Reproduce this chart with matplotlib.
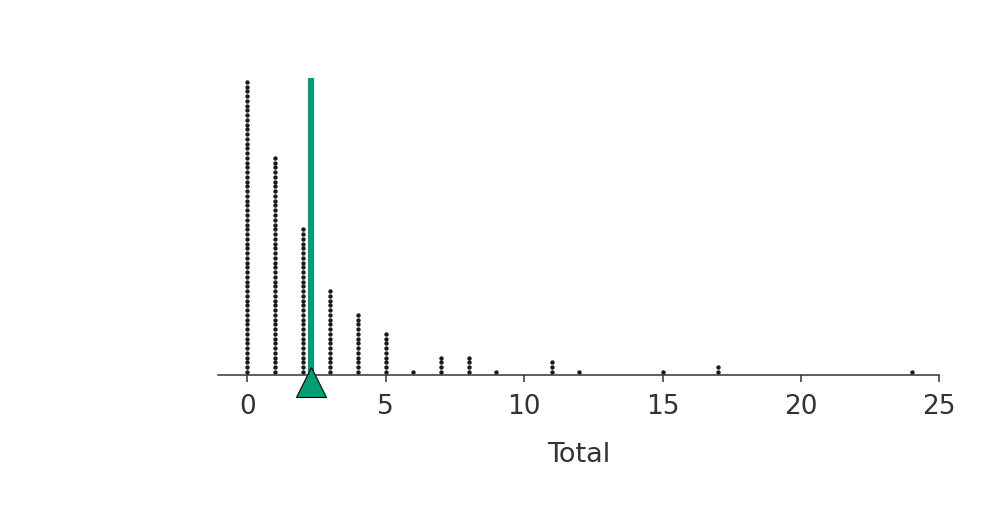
import numpy as np
import matplotlib
matplotlib.use("Agg")
import matplotlib.pyplot as plt

# data: value -> count of observations
values = [0, 1, 2, 3, 4, 5, 6, 7, 8, 9, 11, 12, 15, 17, 24]
counts = [62, 46, 31, 18, 13, 9, 1, 4, 4, 1, 3, 1, 1, 2, 1]
xticks = [0, 5, 10, 15, 20, 25]
xlabel = "Total"

xs, ys = [], []
for v, c in zip(values, counts):
    xs.extend([v] * c)
    ys.extend(range(c))
xs = np.array(xs, dtype=float)
ys = np.array(ys, dtype=float)
mean_val = xs.mean()

text_col = "#333333"
green = "#009E73"

fig = plt.figure(figsize=(10, 5.28), dpi=100)
ax = fig.add_axes([0.2177, 1 - 375.3 / 528, 0.9393 - 0.2177, (375.3 - 78) / 528])

ax.scatter(xs, ys, s=10, color="#1a1a1a", linewidths=0, zorder=2)
ax.axvline(mean_val, color=green, lw=4.4, zorder=3)
ax.plot([mean_val], [-0.021], marker="^", markersize=21, color=green,
        markeredgecolor="black", markeredgewidth=0.8,
        transform=ax.get_xaxis_transform(), clip_on=False, zorder=5)

ax.set_xlim(-1.07, 25.0)
ax.set_ylim(-0.7, 61.8)
ax.set_xticks(xticks)
ax.set_xticklabels([str(t) for t in xticks])
ax.set_yticks([])
for s in ["left", "right", "top"]:
    ax.spines[s].set_visible(False)
ax.spines["bottom"].set_color(text_col)
ax.spines["bottom"].set_linewidth(1.1)
ax.tick_params(axis="x", direction="out", length=5, width=1.1, color=text_col,
               labelsize=19, labelcolor=text_col, pad=8.5)
ax.set_xlabel(xlabel, fontsize=19.5, color=text_col, labelpad=16)

fig.savefig("out.png", dpi=100)
